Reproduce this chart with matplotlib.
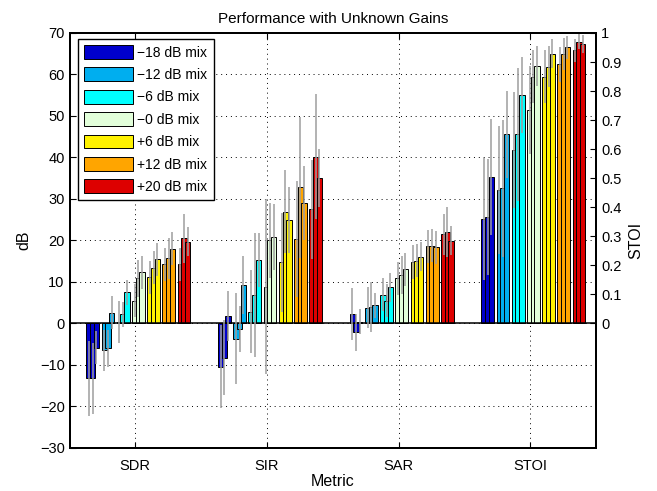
import numpy as np
from matplotlib import pyplot as plt
from matplotlib.patches import Patch

plt.rcParams["font.family"] = ["Liberation Sans", "DejaVu Sans"]
plt.rcParams["font.size"] = 10.5

# data: 7 mix levels x 3 bars per level, for each metric
metrics = ['SDR', 'SIR', 'SAR', 'STOI']
mix_labels = ['\u221218 dB mix', '\u221212 dB mix', '\u22126 dB mix', '\u22120 dB mix',
              '+6 dB mix', '+12 dB mix', '+20 dB mix']
mix_colors = ['#0000CC', '#00AEEF', '#00FFFF', '#E2FFDA', '#FFF200', '#FFA500', '#DD0000']

sdr = [[-13.2, -13.2, -5.8], [-6.5, -6.0, 2.6], [0.3, 2.2, 7.5], [5.5, 10.9, 12.3],
       [11.1, 13.4, 15.5], [14.3, 15.7, 18.0], [14.3, 20.5, 19.7]]
sdr_err = [[9.0, 8.5, 4.0], [5.0, 4.5, 4.0], [5.0, 3.0, 3.0], [4.0, 4.5, 4.0],
           [4.0, 4.0, 4.0], [4.0, 5.0, 4.0], [4.0, 6.0, 3.5]]

sir = [[-10.4, -8.2, 1.8], [-3.7, -1.4, 9.2], [2.8, 6.9, 15.3], [8.9, 20.0, 20.9],
       [14.7, 26.9, 24.9], [20.3, 32.8, 29.0], [27.5, 40.2, 35.0]]
sir_err = [[10.0, 9.0, 6.0], [11.0, 5.5, 7.0], [10.0, 15.0, 6.6], [21.0, 9.0, 8.0],
           [12.0, 10.0, 8.0], [14.0, 17.0, 9.0], [12.0, 15.0, 7.0]]

sar = [[2.3, -2.1, 0.4], [3.8, 3.9, 4.4], [6.9, 5.5, 8.7], [10.9, 11.7, 13.1],
       [14.8, 15.1, 16.1], [18.6, 18.7, 18.4], [21.5, 22.1, 19.9]]
sar_err = [[6.3, 4.5, 3.0], [5.0, 6.0, 3.0], [4.0, 4.0, 3.5], [4.0, 4.5, 4.0],
           [4.0, 4.0, 3.5], [4.0, 4.0, 4.0], [5.0, 6.0, 3.5]]

stoi = [[0.36, 0.367, 0.505], [0.46, 0.465, 0.651], [0.597, 0.651, 0.787], [0.735, 0.85, 0.886],
        [0.85, 0.884, 0.928], [0.893, 0.927, 0.951], [0.94, 0.97, 0.962]]
stoi_err = [[0.21, 0.2, 0.2], [0.22, 0.235, 0.15], [0.2, 0.23, 0.13], [0.15, 0.09, 0.07],
            [0.09, 0.07, 0.05], [0.06, 0.055, 0.04], [0.04, 0.025, 0.03]]

stoi_scale = 70.0  # STOI of 1 sits at 70 dB on the left axis

values = [sdr, sir, sar, [[v * stoi_scale for v in row] for row in stoi]]
errors = [sdr_err, sir_err, sar_err, [[v * stoi_scale for v in row] for row in stoi_err]]

# bar layout inside one metric group (data units)
start = -0.372
pitch = 0.1155
step = 0.0281
width = 0.041

fig = plt.figure(figsize=(6.57, 4.91), dpi=100)
ax = fig.add_axes([0.1058, 0.0876, 0.8016, 0.8452])

for g in range(len(metrics)):
    xs, ys, es = [], [], []
    for k in range(7):
        for j in range(3):
            x = g + 1 + start + k * pitch + j * step + width / 2
            v = values[g][k][j]
            ax.bar(x, v, width, color=mix_colors[k], edgecolor='k', linewidth=0.7, zorder=2)
            xs.append(x)
            ys.append(v)
            es.append(errors[g][k][j])
    xs, ys, es = np.array(xs), np.array(ys), np.array(es)
    ax.vlines(xs, ys - es, ys + es, color='0.62', linewidth=1.1, zorder=4)

ax.axhline(0, color='k', linewidth=1.1, zorder=3)

ax.set_xlim(0.5, 4.5)
ax.set_ylim(-30, 70)
ax.set_xticks([1, 2, 3, 4])
ax.set_xticklabels(metrics)
ax.set_yticks(np.arange(-30, 71, 10))
ax.grid(True, color='k', linestyle=(0, (1, 4)), linewidth=0.7)
ax.set_axisbelow(True)
ax.tick_params(direction='in', length=4, top=True, width=0.8)
ax.tick_params(axis='x', pad=8)
for s in ax.spines.values():
    s.set_linewidth(1.4)

ax.set_xlabel('Metric', fontsize=11.5, labelpad=1)
ax.set_ylabel('dB', fontsize=11.5, labelpad=6)
ax.set_title('Performance with Unknown Gains', fontsize=11, pad=7)

ax2 = ax.twinx()
ax2.set_ylim(-30 / stoi_scale, 1)
ax2.set_yticks(np.round(np.arange(0, 1.01, 0.1), 1))
ax2.set_yticklabels(['0', '0.1', '0.2', '0.3', '0.4', '0.5', '0.6', '0.7', '0.8', '0.9', '1'])
ax2.tick_params(direction='in', length=4, width=0.8)
ax2.set_ylabel('STOI', fontsize=11.5, labelpad=5)
for s in ax2.spines.values():
    s.set_linewidth(1.4)

handles = [Patch(facecolor=c, edgecolor='k', linewidth=0.7) for c in mix_colors]
leg = ax2.legend(handles, mix_labels, loc='upper left', bbox_to_anchor=(0.016, 0.986),
                 borderaxespad=0, fancybox=False, edgecolor='k', framealpha=1, fontsize=10,
                 handlelength=3.5, handleheight=1.15, labelspacing=0.56,
                 handletextpad=0.32, borderpad=0.45)
leg.get_frame().set_linewidth(1.0)

plt.savefig('out.png', dpi=100)
